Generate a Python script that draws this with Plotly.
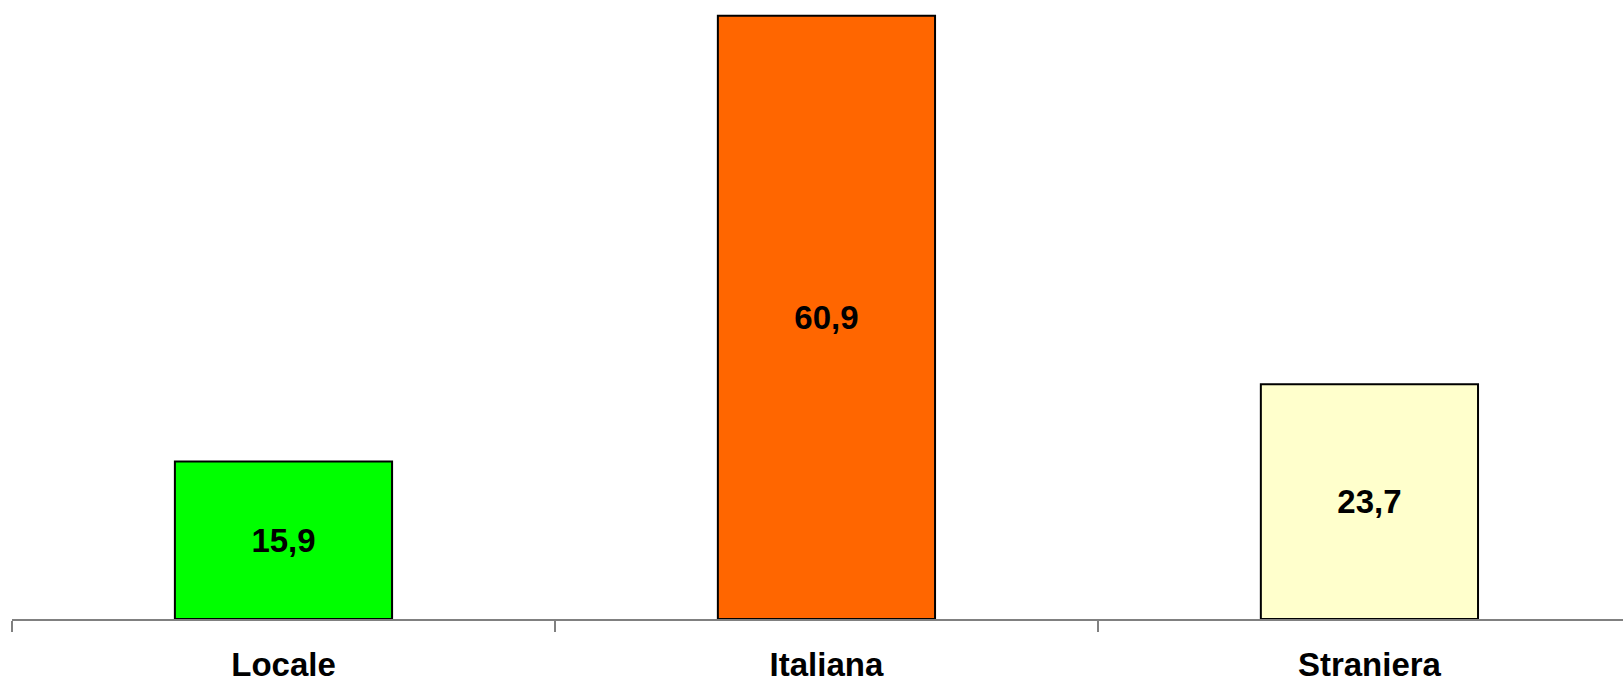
import plotly.graph_objects as go

categories = ["Locale", "Italiana", "Straniera"]
values = [15.9, 60.9, 23.7]
colors = ["#00FF00", "#FF6600", "#FFFFCC"]

fig = go.Figure(go.Bar(
    x=categories,
    y=values,
    marker=dict(color=colors, line=dict(color="#000000", width=2)),
    width=0.4,
    texttemplate="%{y:.1f}",
    textposition="inside",
    insidetextanchor="middle",
    textfont=dict(family="Liberation Sans, Arial", size=33, color="#000000", weight="bold"),
    constraintext="none",
    cliponaxis=False,
))

fig.update_layout(
    width=1623, height=683,
    margin=dict(l=12, r=0, t=0, b=64),
    plot_bgcolor="white", paper_bgcolor="white",
    separators=",.",
    showlegend=False,
    xaxis=dict(
        range=[-0.5, 2.467],
        automargin=False,
        showline=True, linecolor="#808080", linewidth=1.5,
        ticks="outside", tickson="boundaries", ticklen=11, tickcolor="#808080", tickwidth=1.5,
        tickfont=dict(family="Liberation Sans, Arial", size=33, color="#000000", weight="bold"),
        ticklabelstandoff=16,
        showgrid=False,
    ),
    yaxis=dict(range=[0, 62.5], visible=False, showgrid=False, automargin=False),
)

fig.write_html(
    "out.html",
    config={"displayModeBar": False},
    post_script="document.body.style.margin='0';document.body.style.overflow='hidden';",
)
